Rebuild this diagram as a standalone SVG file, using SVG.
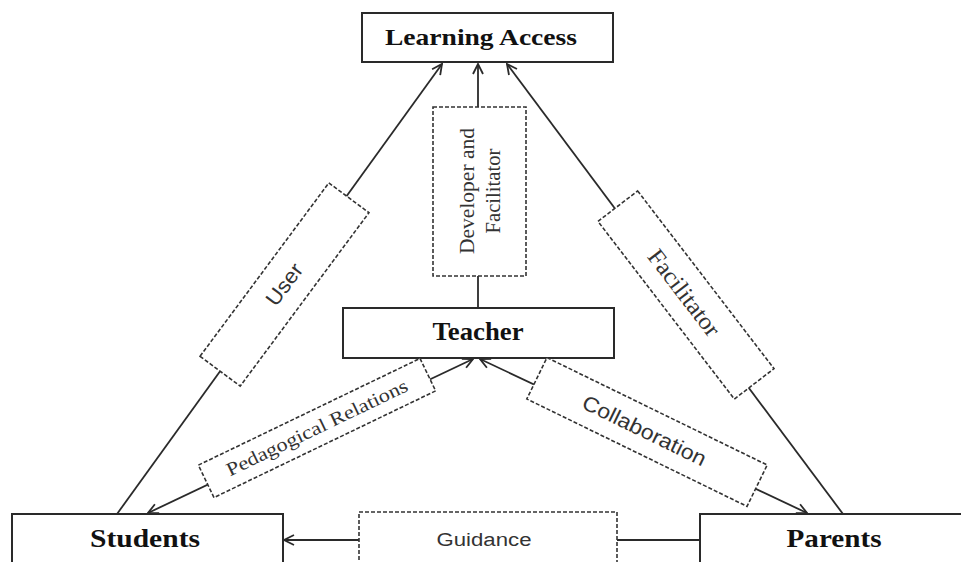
<svg xmlns="http://www.w3.org/2000/svg" width="961" height="562" viewBox="0 0 961 562">
<defs>
<marker id="arr" viewBox="0 0 12 12" refX="11" refY="6" markerWidth="12" markerHeight="12" markerUnits="userSpaceOnUse" orient="auto-start-reverse">
<path d="M1,1 L11,6 L1,11" fill="none" stroke="#2a2a2a" stroke-width="1.8"/>
</marker>
</defs>
<style>
.node{fill:#fff;stroke:#2a2a2a;stroke-width:2}
.dash{fill:#fff;stroke:#333;stroke-width:1.6;stroke-dasharray:4 2}
.line{fill:none;stroke:#2a2a2a;stroke-width:1.8}
.bold{font-family:"Liberation Serif","Times New Roman",serif;font-weight:bold;fill:#111;text-anchor:middle}
.serif{font-family:"Liberation Serif","Times New Roman",serif;fill:#333;text-anchor:middle}
.sans{font-family:"Liberation Sans",Arial,sans-serif;fill:#333;text-anchor:middle}
</style>
<rect width="961" height="562" fill="#fff"/>
<g id="connectors">
<line class="line" x1="117" y1="514" x2="442" y2="64" marker-end="url(#arr)"/>
<line class="line" x1="843" y1="514" x2="507" y2="64" marker-end="url(#arr)"/>
<line class="line" x1="478" y1="308" x2="478" y2="64" marker-end="url(#arr)"/>
<line class="line" x1="473" y1="359" x2="148" y2="513" marker-start="url(#arr)" marker-end="url(#arr)"/>
<line class="line" x1="480" y1="359" x2="807" y2="513" marker-start="url(#arr)" marker-end="url(#arr)"/>
<line class="line" x1="700" y1="540" x2="284" y2="540" marker-end="url(#arr)"/>
</g>
<g id="learning-access">
<rect class="node" x="362" y="13" width="251" height="49"/>
<text class="bold" x="481" y="45" font-size="24" textLength="192" lengthAdjust="spacingAndGlyphs">Learning Access</text>
</g>
<g id="teacher">
<rect class="node" x="343" y="308" width="271" height="50"/>
<text class="bold" x="478" y="340" font-size="25" textLength="91" lengthAdjust="spacingAndGlyphs">Teacher</text>
</g>
<g id="students">
<rect class="node" x="12" y="514" width="271" height="60"/>
<text class="bold" x="145" y="547" font-size="25" textLength="110" lengthAdjust="spacingAndGlyphs">Students</text>
</g>
<g id="parents">
<rect class="node" x="700" y="514" width="280" height="60"/>
<text class="bold" x="834" y="547" font-size="25" textLength="95" lengthAdjust="spacingAndGlyphs">Parents</text>
</g>
<g id="label-developer">
<rect class="dash" x="433" y="107" width="93" height="169"/>
<g transform="translate(478,191) rotate(-90)">
<text class="serif" x="0" y="-4" font-size="20" textLength="126" lengthAdjust="spacingAndGlyphs">Developer and</text>
<text class="serif" x="0" y="22" font-size="20" textLength="85" lengthAdjust="spacingAndGlyphs">Facilitator</text>
</g>
</g>
<g id="label-user" transform="translate(284.5,284.5) rotate(-53.4)">
<rect class="dash" x="-108" y="-25" width="216" height="50"/>
<text class="sans" x="0" y="7" font-size="21" textLength="47" lengthAdjust="spacingAndGlyphs">User</text>
</g>
<g id="label-facilitator" transform="translate(686,295) rotate(52.5)">
<rect class="dash" x="-112" y="-25" width="224" height="50"/>
<text class="serif" x="-3" y="8" font-size="24" textLength="103" lengthAdjust="spacingAndGlyphs">Facilitator</text>
</g>
<g id="label-pedagogical" transform="translate(317,428) rotate(-25.7)">
<rect class="dash" x="-123" y="-18" width="246" height="36"/>
<text class="serif" x="0" y="6" font-size="19" textLength="199" lengthAdjust="spacingAndGlyphs">Pedagogical Relations</text>
</g>
<g id="label-collaboration" transform="translate(647,432) rotate(26)">
<rect class="dash" x="-122.5" y="-23" width="245" height="46"/>
<text class="sans" x="-3" y="7" font-size="21" textLength="135" lengthAdjust="spacingAndGlyphs">Collaboration</text>
</g>
<g id="label-guidance">
<rect class="dash" x="359" y="512" width="258" height="60"/>
<text class="sans" x="484" y="546" font-size="18" textLength="95" lengthAdjust="spacingAndGlyphs">Guidance</text>
</g>
</svg>
